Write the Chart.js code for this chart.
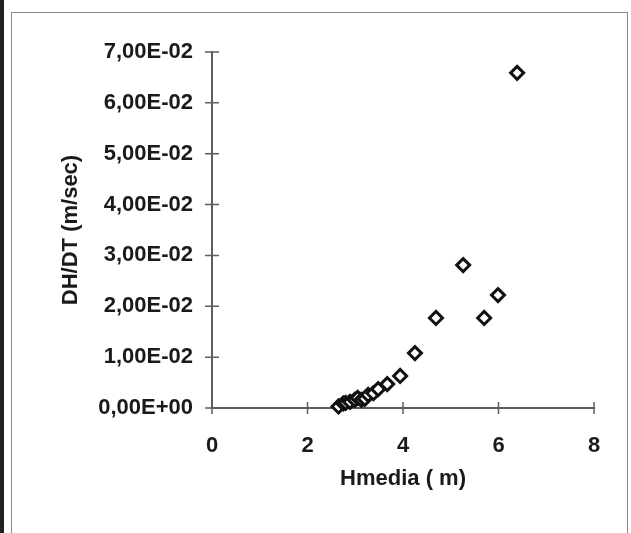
<!DOCTYPE html>
<html>
<head>
<meta charset="utf-8">
<script src="https://cdn.jsdelivr.net/npm/chart.js@4"></script>
<style>
  body { margin: 0; background: #fff; }
  #wrap { position: relative; width: 631px; height: 533px; overflow: hidden; }
  #edge { position: absolute; left: 0; top: 0; width: 4px; height: 533px; background: #222; }
  #frame { position: absolute; left: 11px; top: 12px; width: 615px; height: 600px; border: 1.5px solid #8a8a8a; }
  #chart { position: absolute; left: 0; top: 0; }
</style>
</head>
<body>
<div id="wrap">
  <div id="edge"></div>
  <div id="frame"></div>
  <canvas id="chart" width="631" height="533"></canvas>
</div>
<script>
// values
const hmedia = [2.65, 2.75, 2.80, 2.89, 2.99, 3.05, 3.13, 3.20, 3.27, 3.38, 3.48, 3.67, 3.94, 4.25, 4.69, 5.26, 5.70, 5.99, 6.39];
const dhdt = [0.0003, 0.0009, 0.0010, 0.0012, 0.0016, 0.0020, 0.0016, 0.0018, 0.0026, 0.0029, 0.0037, 0.0047, 0.0063, 0.0108, 0.0177, 0.0281, 0.0177, 0.0222, 0.0659];

const xTicks = [0, 2, 4, 6, 8];
const yTicks = [0, 0.01, 0.02, 0.03, 0.04, 0.05, 0.06, 0.07];

const ctx = document.getElementById('chart').getContext('2d');
const textColor = '#1a1a1a';
const axisColor = '#5e5e5e';
const font = { family: '"Liberation Sans", Arial, sans-serif', size: 22, weight: 'bold' };

function sciLabel(v) {
    let parts = Math.abs(v) < 1e-12 ? ['0.00', '+0'] : v.toExponential(2).split('e');
    let exp = parseInt(parts[1], 10);
    let sign = exp < 0 ? '-' : '+';
    return parts[0].replace('.', ',') + 'E' + sign + String(Math.abs(exp)).padStart(2, '0');
}

// small tick marks crossing both axes
const crossTicks = {
    id: 'crossTicks',
    beforeDatasetsDraw(chart) {
        const { ctx, scales: { x, y } } = chart;
        const x0 = x.getPixelForValue(0);
        const y0 = y.getPixelForValue(0);
        ctx.save();
        ctx.strokeStyle = axisColor;
        ctx.lineWidth = 1.5;
        ctx.beginPath();
        xTicks.forEach(v => {
            const px = x.getPixelForValue(v);
            ctx.moveTo(px, y0 - 6);
            ctx.lineTo(px, y0 + 6);
        });
        yTicks.forEach(v => {
            const py = y.getPixelForValue(v);
            ctx.moveTo(x0 - 7, py);
            ctx.lineTo(x0 + 7, py);
        });
        ctx.stroke();
        ctx.restore();
    }
};

new Chart(ctx, {
    type: 'scatter',
    data: {
        datasets: [{
            data: hmedia.map((h, i) => ({ x: h, y: dhdt[i] })),
            pointStyle: 'rectRot',
            pointRadius: 6.5,
            pointBorderWidth: 3,
            pointBorderColor: '#111',
            pointBackgroundColor: '#fff',
            clip: false
        }]
    },
    options: {
        responsive: false,
        animation: false,
        layout: { padding: { left: 0, top: 52, right: 37, bottom: 0 } },
        plugins: {
            legend: { display: false },
            tooltip: { enabled: false }
        },
        scales: {
            x: {
                type: 'linear',
                min: 0,
                max: 8,
                afterBuildTicks: s => { s.ticks = xTicks.map(v => ({ value: v })); },
                afterFit: s => { s.height = 125; },
                grid: { drawOnChartArea: false, drawTicks: false },
                border: { color: axisColor, width: 2 },
                ticks: { color: textColor, font: font, padding: 25, maxRotation: 0 },
                title: { display: true, text: 'Hmedia ( m)', color: textColor, font: font, padding: { top: 0, bottom: 41 } }
            },
            y: {
                type: 'linear',
                min: 0,
                max: 0.07,
                afterBuildTicks: s => { s.ticks = yTicks.map(v => ({ value: v })); },
                afterFit: s => { s.width = 212; },
                grid: { drawOnChartArea: false, drawTicks: false },
                border: { color: axisColor, width: 2 },
                ticks: { color: textColor, font: font, padding: 19, callback: v => sciLabel(v) },
                title: { display: true, text: 'DH/DT (m/sec)', color: textColor, font: font, padding: { top: 58, bottom: 0 } }
            }
        }
    },
    plugins: [crossTicks]
});
</script>
</body>
</html>
